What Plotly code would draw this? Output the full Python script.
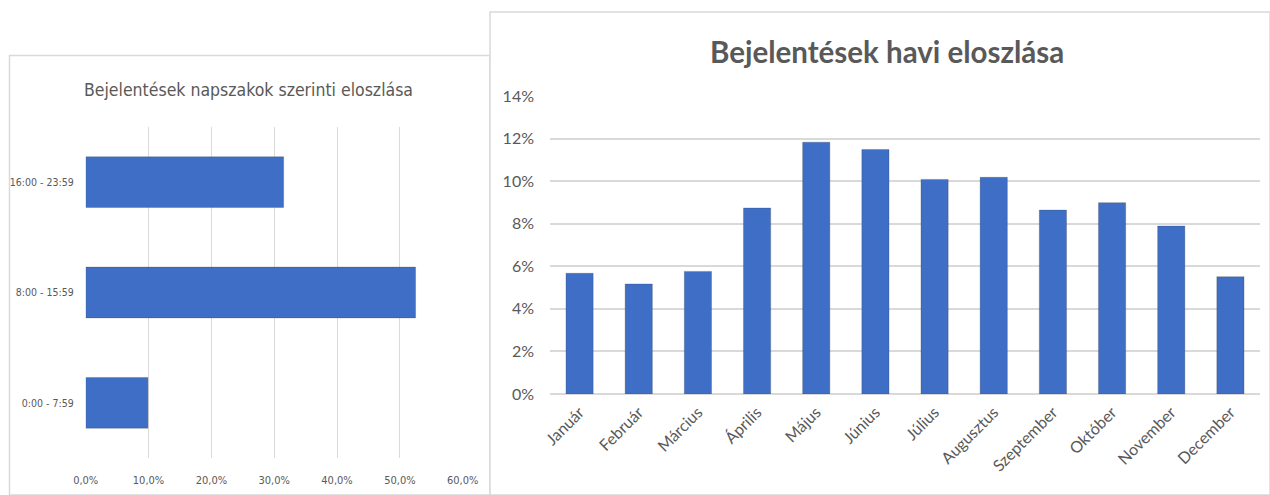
import plotly.graph_objects as go

W, H = 1270, 495

# Left chart data
periods = ["0:00 - 7:59", "8:00 - 15:59", "16:00 - 23:59"]
period_share = [0.099, 0.525, 0.315]
left_ticks = [0, 0.1, 0.2, 0.3, 0.4, 0.5, 0.6]

# Right chart data
months = ["Január", "Február", "Március", "Április", "Május", "Június",
          "Július", "Augusztus", "Szeptember", "Október", "November", "December"]
month_share = [0.0567, 0.0517, 0.0576, 0.0874, 0.1183, 0.1149,
               0.1008, 0.1018, 0.0864, 0.0899, 0.0789, 0.0551]
right_ticks = [0, 0.02, 0.04, 0.06, 0.08, 0.10, 0.12, 0.14]

BAR = "#3e6ec5"
GRID = "#d9d9d9"
TXT = "#595959"
NARROW = "DejaVu Sans Condensed, sans-serif"
BODY = "Lato, Open Sans, sans-serif"

def px(x):
    return x / W

def py(y):
    return 1 - y / H

fig = go.Figure()

fig.add_trace(go.Bar(
    x=period_share, y=periods, orientation="h",
    marker=dict(color=BAR, line=dict(color="rgba(60,60,60,0.25)", width=1)),
    xaxis="x", yaxis="y", showlegend=False, hoverinfo="x+y",
))
fig.add_trace(go.Bar(
    x=months, y=month_share,
    marker=dict(color=BAR, line=dict(color="rgba(60,60,60,0.25)", width=1)),
    xaxis="x2", yaxis="y2", showlegend=False, hoverinfo="x+y",
))

fig.update_layout(
    width=W, height=H,
    margin=dict(l=0, r=0, t=0, b=0, pad=0, autoexpand=False),
    paper_bgcolor="white", plot_bgcolor="white",
    separators=", ",
    bargap=0.54,
    xaxis=dict(
        domain=[px(85.7), px(462.7)], range=[0, 0.6], tickvals=left_ticks,
        tickformat=".1%", showgrid=True, gridcolor=GRID, gridwidth=1,
        zeroline=False, showline=False, ticks="",
        tickfont=dict(family=NARROW, size=11, color=TXT),
        ticklabelstandoff=14, fixedrange=True,
    ),
    yaxis=dict(
        domain=[py(458), py(127)], showgrid=False, zeroline=False, showline=False,
        ticks="", tickfont=dict(family=NARROW, size=10.5, color=TXT),
        ticklabelstandoff=11, fixedrange=True,
    ),
    xaxis2=dict(
        domain=[px(550), px(1260)], anchor="y2", showgrid=False, zeroline=False,
        showline=False, ticks="", tickangle=-45,
        tickfont=dict(family=BODY, size=16, color=TXT),
        ticklabelstandoff=5, fixedrange=True,
    ),
    yaxis2=dict(
        domain=[py(394), py(96)], anchor="x2", range=[0, 0.14], tickvals=right_ticks,
        tickformat=".0%", showgrid=True, gridcolor=GRID, gridwidth=2,
        zeroline=True, zerolinecolor=GRID, zerolinewidth=2, showline=False, ticks="",
        tickfont=dict(family=BODY, size=16, color=TXT),
        ticklabelstandoff=15, fixedrange=True,
    ),
    shapes=[
        dict(type="rect", xref="paper", yref="paper",
             x0=px(9.5), x1=px(490), y0=0, y1=py(55.5),
             line=dict(color=GRID, width=1.5), fillcolor="white", layer="below"),
        dict(type="rect", xref="paper", yref="paper",
             x0=px(490), x1=1, y0=0, y1=py(12),
             line=dict(color=GRID, width=1.5), fillcolor="white", layer="below"),
    ],
    annotations=[
        dict(text="Bejelentések napszakok szerinti eloszlása", xref="paper", yref="paper",
             x=px(248), y=py(90), showarrow=False, xanchor="center", yanchor="middle",
             font=dict(family=NARROW, size=17.5, color=TXT)),
        dict(text="<b>Bejelentések havi eloszlása</b>", xref="paper", yref="paper",
             x=px(887), y=py(51), showarrow=False, xanchor="center", yanchor="middle",
             font=dict(family=BODY, size=29.5, color=TXT)),
    ],
)

fig.write_html(
    "out.html",
    post_script="document.body.style.margin='0';document.body.style.padding='0';"
                "document.body.style.overflow='hidden';",
)
